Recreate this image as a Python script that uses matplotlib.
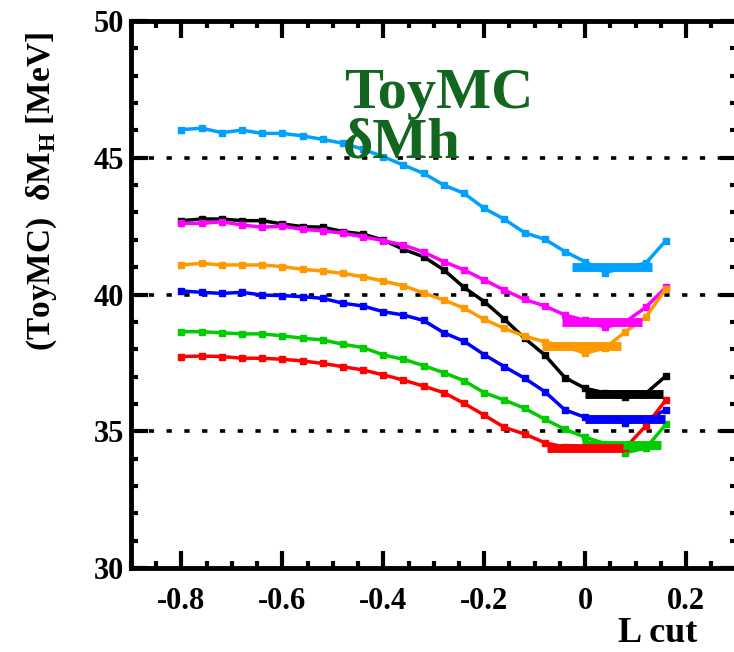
import matplotlib
matplotlib.use("Agg")
import matplotlib.pyplot as plt
from matplotlib.ticker import MultipleLocator

plt.rcParams['font.family'] = ['Liberation Serif', 'DejaVu Serif']
plt.rcParams['font.weight'] = 'bold'
plt.rcParams['mathtext.fontset'] = 'custom'
plt.rcParams['mathtext.rm'] = 'Liberation Serif:bold'
plt.rcParams['mathtext.bf'] = 'Liberation Serif:bold'
plt.rcParams['lines.scale_dashes'] = False

# L cut values (-0.80 ... 0.16 in steps of 0.04)
lcut = [-0.80, -0.76, -0.72, -0.68, -0.64, -0.60, -0.56, -0.52, -0.48, -0.44,
        -0.40, -0.36, -0.32, -0.28, -0.24, -0.20, -0.16, -0.12, -0.08, -0.04,
        0.00, 0.04, 0.08, 0.12, 0.16]

cyan_vals = [46.03, 46.08, 45.92, 46.01, 45.89, 45.89, 45.80, 45.67, 45.53, 45.31,
             45.04, 44.73, 44.43, 44.00, 43.70, 43.15, 42.75, 42.26, 42.02, 41.57,
             41.20, 40.80, 41.00, 41.14, 41.97]
black_vals = [42.70, 42.76, 42.76, 42.70, 42.70, 42.58, 42.48, 42.46, 42.30, 42.21,
              41.99, 41.65, 41.38, 40.90, 40.26, 39.74, 39.10, 38.40, 37.79, 36.96,
              36.57, 36.40, 36.26, 36.38, 37.02]
magenta_vals = [42.60, 42.60, 42.66, 42.54, 42.46, 42.50, 42.38, 42.33, 42.24, 42.11,
                41.97, 41.81, 41.55, 41.20, 40.90, 40.53, 40.16, 39.82, 39.58, 39.25,
                39.05, 38.80, 39.00, 39.53, 40.26]
orange_vals = [41.08, 41.14, 41.08, 41.08, 41.08, 41.02, 40.92, 40.86, 40.77, 40.65,
               40.49, 40.32, 40.05, 39.80, 39.50, 39.09, 38.76, 38.48, 38.27, 38.10,
               37.85, 38.05, 38.64, 39.17, 40.20]
blue_vals = [40.13, 40.08, 40.04, 40.08, 39.98, 39.96, 39.92, 39.86, 39.68, 39.58,
             39.37, 39.25, 39.05, 38.60, 38.29, 37.80, 37.36, 36.94, 36.45, 35.78,
             35.51, 35.45, 35.31, 35.41, 35.78]
green_vals = [38.64, 38.64, 38.60, 38.56, 38.56, 38.49, 38.40, 38.34, 38.18, 38.06,
              37.79, 37.63, 37.40, 37.14, 36.85, 36.41, 36.14, 35.84, 35.44, 35.07,
              34.78, 34.55, 34.22, 34.38, 35.25]
red_vals = [37.73, 37.75, 37.73, 37.67, 37.67, 37.63, 37.57, 37.48, 37.36, 37.24,
            37.06, 36.87, 36.65, 36.41, 36.02, 35.59, 35.14, 34.90, 34.58, 34.42,
            34.40, 34.40, 34.40, 35.19, 36.14]

series = [cyan_vals, black_vals, magenta_vals, orange_vals, blue_vals, green_vals, red_vals]
colors = ['#00a0ff', '#000000', '#ff00ff', '#ff9900', '#0000ff', '#00cc00', '#ff0000']

# thick bars marking the minimum region: (lcut from, lcut to, level)
bar_lo = [-0.026, 0.000, -0.046, -0.086, 0.000, -0.006, -0.076]
bar_hi = [0.132, 0.155, 0.112, 0.072, 0.158, 0.150, 0.076]
bar_level = [41.0, 36.38, 39.0, 38.1, 35.45, 34.5, 34.4]

grid_levels = [35, 40, 45]

fig = plt.figure(figsize=(7.34, 6.52), dpi=100)
ax = fig.add_axes([131 / 734, 84 / 652, 605.5 / 734, 547 / 652])

for lvl in grid_levels:
    ax.axhline(lvl, color='black', lw=2.6, dashes=[3.8, 9.0], zorder=1)

for vals, c in zip(series, colors):
    ax.plot(lcut, vals, color=c, lw=2.5, marker='s', markersize=4.2, zorder=3)

for lo, hi, lvl, c in zip(bar_lo, bar_hi, bar_level, colors):
    ax.plot([lo, hi], [lvl, lvl], color=c, lw=6.4, solid_capstyle='butt', zorder=4)

ax.set_xlim(-0.9, 0.3)
ax.set_ylim(30, 50)
ax.xaxis.set_major_locator(MultipleLocator(0.2))
ax.xaxis.set_minor_locator(MultipleLocator(0.05))
ax.yaxis.set_major_locator(MultipleLocator(5))
ax.yaxis.set_minor_locator(MultipleLocator(1))
ax.set_xticks([-0.8, -0.6, -0.4, -0.2, 0, 0.2])
ax.set_xticklabels(['-0.8', '-0.6', '-0.4', '-0.2', '0', '0.2'])
ax.set_yticks([30, 35, 40, 45, 50])
ax.set_yticklabels(['30', '35', '40', '45', '50'])

ax.tick_params(which='both', direction='in', top=True, right=True, width=3,
               labelsize=22)
ax.tick_params(which='major', length=12)
ax.tick_params(which='minor', length=5)
ax.tick_params(axis='x', pad=14)
ax.tick_params(axis='y', pad=5)
for s in ax.spines.values():
    s.set_linewidth(3.5)

ax.text(-0.477, 46.82, 'ToyMC', color='#12661f', fontsize=42, fontweight='bold',
        ha='left', va='baseline')
ax.text(-0.481, 45.0, 'δMh', color='#12661f', fontsize=42, fontweight='bold',
        ha='left', va='baseline')

fig.text(42 / 734, 1 - 192 / 652, '(ToyMC)  δM$_\\mathbf{H}$ [MeV]', rotation=90,
         ha='center', va='center', fontsize=24, fontweight='bold')
fig.text(697 / 734, 1 - 634 / 652, 'L cut', ha='right', va='center',
         fontsize=26, fontweight='bold')

fig.savefig('out.png', dpi=100)
